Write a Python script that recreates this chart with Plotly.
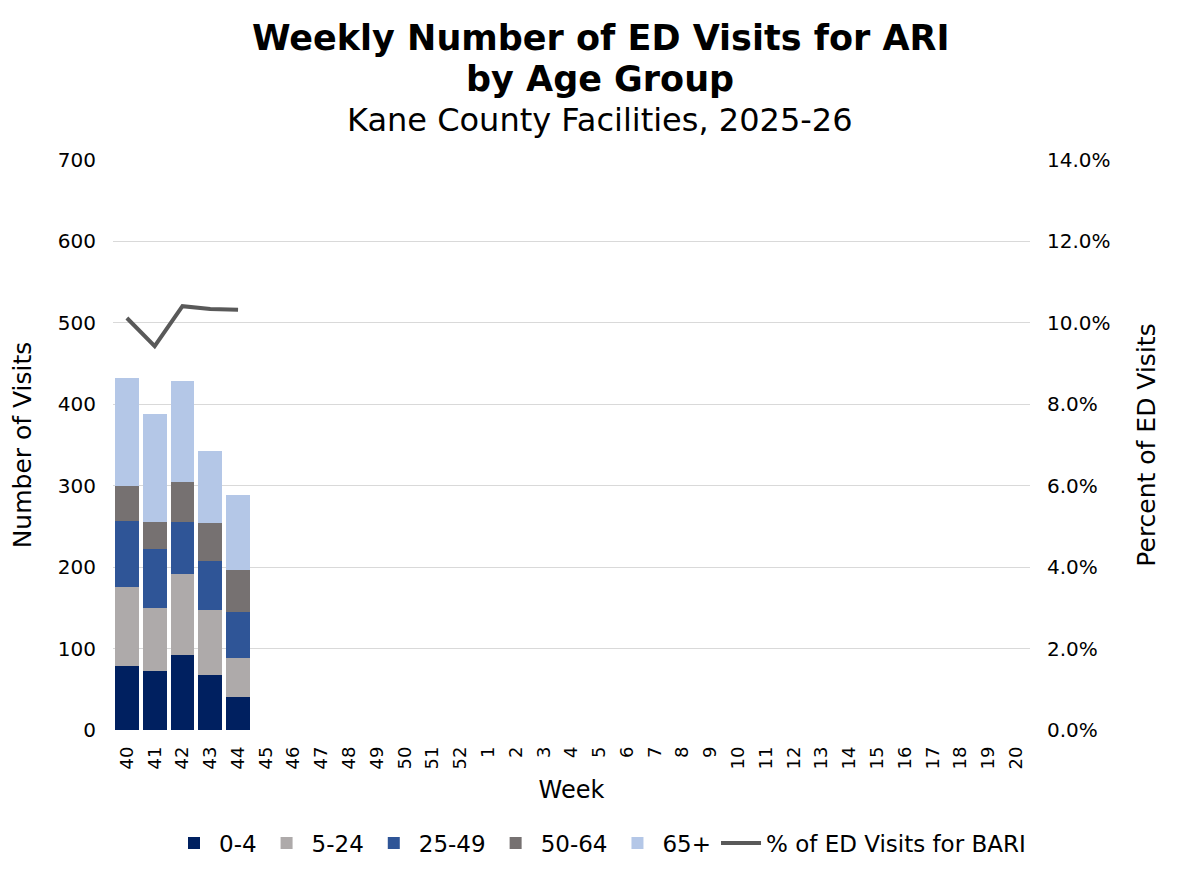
import plotly.graph_objects as go

weeks = [str(w) for w in list(range(40, 53)) + list(range(1, 21))]
data_weeks = ["40", "41", "42", "43", "44"]

age_0_4 = [78, 73, 92, 67, 41]
age_5_24 = [98, 77, 99, 80, 47]
age_25_49 = [81, 72, 65, 61, 57]
age_50_64 = [43, 34, 48, 46, 51]
age_65_plus = [132, 132, 125, 89, 92]
pct_bari = [0.1012, 0.0943, 0.1041, 0.1034, 0.1032]

font_family = "DejaVu Sans, Verdana, sans-serif"

# page body has an 8px margin, so the figure is sized to fit the window
fig_w, fig_h = 1184, 856
m_l, m_r, m_t, m_b = 105, 162, 152, 134
plot_w = fig_w - m_l - m_r
plot_h = fig_h - m_t - m_b
center_x = (fig_w / 2 - m_l) / plot_w  # figure centre in paper coords

fig = go.Figure()

series = [
    ("0-4", age_0_4, "#002060"),
    ("5-24", age_5_24, "#AEAAAA"),
    ("25-49", age_25_49, "#2F5597"),
    ("50-64", age_50_64, "#767171"),
    ("65+", age_65_plus, "#B4C7E7"),
]
for name, vals, color in series:
    fig.add_trace(go.Bar(
        x=data_weeks,
        y=vals,
        name=name,
        marker={"color": color, "line": {"width": 0}},
    ))

fig.add_trace(go.Scatter(
    x=data_weeks,
    y=pct_bari,
    name="% of ED Visits for BARI",
    mode="lines",
    line={"color": "#595959", "width": 4},
    yaxis="y2",
))

fig.update_layout(
    width=fig_w,
    height=fig_h,
    barmode="stack",
    bargap=0.14,
    plot_bgcolor="white",
    paper_bgcolor="white",
    font={"family": font_family, "color": "#000000", "size": 20},
    margin={"l": m_l, "r": m_r, "t": m_t, "b": m_b, "autoexpand": False},
    xaxis={
        "type": "category",
        "categoryorder": "array",
        "categoryarray": weeks,
        "range": [-0.5, len(weeks) - 0.5],
        "tickangle": -90,
        "tickfont": {"size": 18},
        "ticklabelstandoff": 12,
        "title": {"text": "Week", "font": {"size": 24}, "standoff": 12},
        "showgrid": False,
        "ticks": "",
    },
    yaxis={
        "range": [0, 700],
        "dtick": 100,
        "gridcolor": "#D9D9D9",
        "gridwidth": 1,
        "zeroline": False,
        "ticklabelstandoff": 16,
        "title": {"text": "Number of Visits", "font": {"size": 25}, "standoff": 19},
        "tickfont": {"size": 20},
    },
    yaxis2={
        "range": [0, 0.14],
        "dtick": 0.02,
        "tickformat": ".1%",
        "overlaying": "y",
        "side": "right",
        "showgrid": False,
        "zeroline": False,
        "ticklabelstandoff": 16,
        "title": {"text": "Percent of ED Visits", "font": {"size": 25}, "standoff": 27},
        "tickfont": {"size": 20},
    },
    legend={
        "orientation": "h",
        "x": center_x,
        "xanchor": "center",
        "y": -113 / plot_h,
        "yanchor": "middle",
        "font": {"size": 23},
        "traceorder": "normal",
        "itemwidth": 40,
    },
    annotations=[
        {
            "text": "<b>Weekly Number of ED Visits for ARI</b>",
            "xref": "paper", "yref": "paper",
            "x": center_x, "y": 1.0 + 122 / plot_h,
            "xanchor": "center", "yanchor": "middle",
            "showarrow": False,
            "font": {"size": 35, "family": font_family},
        },
        {
            "text": "<b>by Age Group</b>",
            "xref": "paper", "yref": "paper",
            "x": center_x, "y": 1.0 + 81 / plot_h,
            "xanchor": "center", "yanchor": "middle",
            "showarrow": False,
            "font": {"size": 35, "family": font_family},
        },
        {
            "text": "Kane County Facilities, 2025-26",
            "xref": "paper", "yref": "paper",
            "x": center_x, "y": 1.0 + 40 / plot_h,
            "xanchor": "center", "yanchor": "middle",
            "showarrow": False,
            "font": {"size": 32, "family": font_family},
        },
    ],
)

fig.write_html("out.html")
